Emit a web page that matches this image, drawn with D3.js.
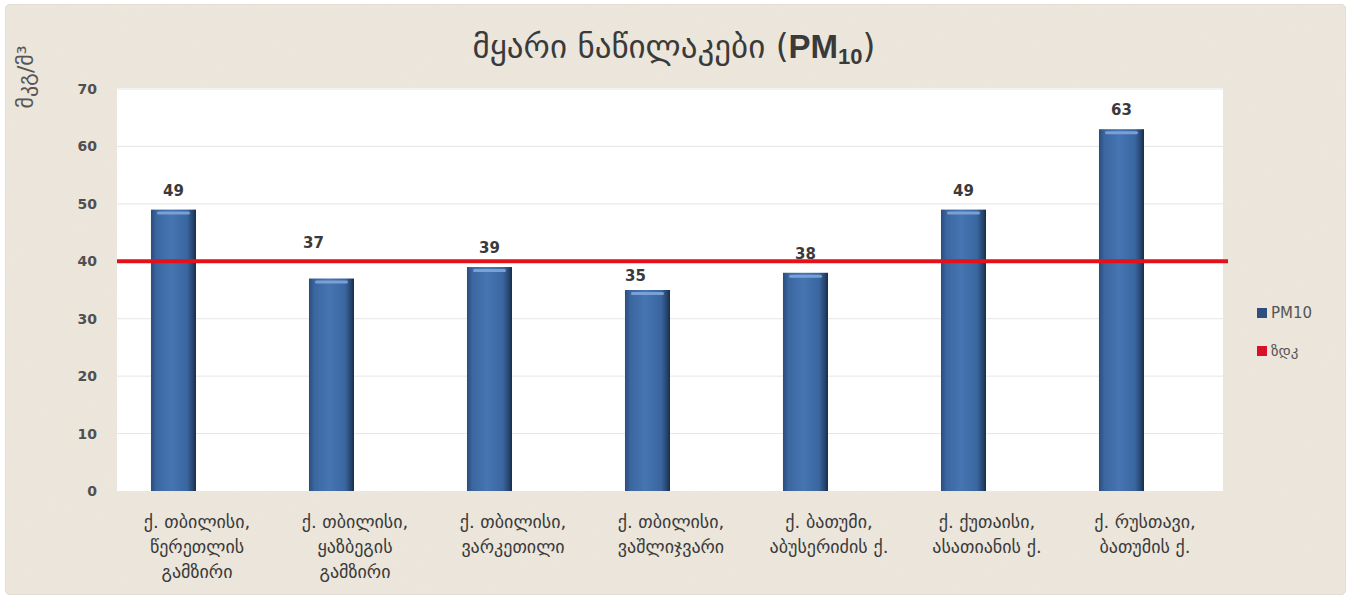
<!DOCTYPE html>
<html>
<head>
<meta charset="utf-8">
<script src="https://cdn.jsdelivr.net/npm/d3@7"></script>
<style>
  html, body { margin: 0; padding: 0; background: #ffffff; }
  svg { display: block; }
</style>
</head>
<body>
<svg id="chart" width="1351" height="600"></svg>
<script>
// Monitoring stations (two-line / three-line labels)
const categories = [
  ["ქ. თბილისი,", "წერეთლის", "გამზირი"],
  ["ქ. თბილისი,", "ყაზბეგის", "გამზირი"],
  ["ქ. თბილისი,", "ვარკეთილი"],
  ["ქ. თბილისი,", "ვაშლიჯვარი"],
  ["ქ. ბათუმი,", "აბუსერიძის ქ."],
  ["ქ. ქუთაისი,", "ასათიანის ქ."],
  ["ქ. რუსთავი,", "ბათუმის ქ."]
];
const pm10 = [49, 37, 39, 35, 38, 49, 63];
const limit = [40, 40, 40, 40, 40, 40, 40];
const yTicks = [0, 10, 20, 30, 40, 50, 60, 70];
const seriesNames = ["PM10", "ზდკ"];
const titleText = "მყარი ნაწილაკები (";
const yTitle = "მკგ/მ³";

const svg = d3.select("#chart");
const GEO = "'DejaVu Sans', sans-serif";
const TXT = "#3a3a3a";

// background panel
const defs = svg.append("defs");
const filt = defs.append("filter").attr("id", "grain").attr("x", 0).attr("y", 0).attr("width", 1).attr("height", 1);
filt.append("feTurbulence").attr("type", "fractalNoise").attr("baseFrequency", 0.9).attr("numOctaves", 2).attr("seed", 3).attr("result", "n");
filt.append("feColorMatrix").attr("in", "n").attr("type", "matrix")
  .attr("values", "0 0 0 0 0.55  0 0 0 0 0.5  0 0 0 0 0.44  0 0 0 0.09 0").attr("result", "c");
filt.append("feComposite").attr("in", "c").attr("in2", "SourceGraphic").attr("operator", "in").attr("result", "m");
filt.append("feMerge").call(m => { m.append("feMergeNode").attr("in", "SourceGraphic"); m.append("feMergeNode").attr("in", "m"); });

svg.append("rect").attr("x", 5).attr("y", 4).attr("width", 1341).attr("height", 591).attr("rx", 6)
  .attr("fill", "#ede7dd").attr("stroke", "#ddd7cd").attr("stroke-width", 1).attr("filter", "url(#grain)");

const plot = { left: 117, right: 1223, top: 88, bottom: 491 };

const x0 = d3.scaleBand().domain(d3.range(categories.length))
  .range([plot.left, plot.right]).paddingInner(0.43).paddingOuter(0.215);
const x1 = d3.scaleBand().domain(seriesNames).range([0, x0.bandwidth()]);
const y = d3.scaleLinear().domain([0, 70]).range([plot.bottom, plot.top + 1]);

// plot area
svg.append("rect").attr("x", plot.left).attr("y", plot.top).attr("width", plot.right - plot.left)
  .attr("height", plot.bottom - plot.top).attr("fill", "#ffffff");

// gridlines
svg.append("g").selectAll("line").data(yTicks.filter(t => t > 0)).join("line")
  .attr("x1", plot.left).attr("x2", plot.right)
  .attr("y1", d => y(d)).attr("y2", d => y(d))
  .attr("stroke", "#e6e6e6").attr("stroke-width", 1);

// y axis labels
const yAxis = d3.axisLeft(y).tickValues(yTicks).tickSize(0).tickPadding(20);
svg.append("g").attr("transform", `translate(${plot.left},0)`).call(yAxis)
  .call(g => g.select(".domain").remove())
  .selectAll("text").attr("font-family", "'DejaVu Sans', sans-serif").attr("font-size", 14)
  .attr("font-weight", "bold").attr("fill", "#505050");

// bar gradient
const grad = defs.append("linearGradient").attr("id", "barGrad").attr("x1", 0).attr("x2", 1).attr("y1", 0).attr("y2", 0);
[[0, "#2a4d7e"], [0.12, "#3b66a0"], [0.45, "#4675b2"], [0.8, "#3a66a0"], [0.93, "#26456f"], [1, "#172c48"]]
  .forEach(([o, c]) => grad.append("stop").attr("offset", o).attr("stop-color", c));

const bw = x1.bandwidth();
const bars = svg.append("g");
bars.selectAll("rect.bar").data(pm10).join("rect").attr("class", "bar")
  .attr("x", (d, i) => x0(i) + x1("PM10"))
  .attr("y", d => y(d))
  .attr("width", bw)
  .attr("height", d => y(0) - y(d))
  .attr("fill", "url(#barGrad)");
// highlight cap at bar tops
bars.selectAll("rect.cap").data(pm10).join("rect").attr("class", "cap")
  .attr("x", (d, i) => x0(i) + x1("PM10") + 6)
  .attr("y", d => y(d) + 2)
  .attr("width", bw - 12)
  .attr("height", 3).attr("rx", 1.5)
  .attr("fill", "#7ea6db").attr("opacity", 0.9);

// limit line (ზდკ)
const lineGen = d3.line().x(d => d[0]).y(d => y(d[1]));
svg.append("path")
  .datum([[plot.left, limit[0]], [plot.right + 5, limit[limit.length - 1]]])
  .attr("d", lineGen).attr("stroke", "#e4101a").attr("stroke-width", 4).attr("fill", "none");

// value labels (a few were moved by hand in the original layout)
const nudge = [[0, 0], [-18, -17], [0, 0], [-12, 5], [0, 0], [0, 0], [0, 0]];
svg.append("g").selectAll("text").data(pm10).join("text")
  .attr("x", (d, i) => x0(i) + x1("PM10") + bw / 2 + nudge[i][0])
  .attr("y", (d, i) => y(d) - 14 + nudge[i][1])
  .attr("text-anchor", "middle")
  .attr("font-family", "'DejaVu Sans', sans-serif").attr("font-size", 15).attr("font-weight", "bold")
  .attr("fill", TXT).text(d => d);

// category labels
const catG = svg.append("g").selectAll("text").data(categories).join("text")
  .attr("x", (d, i) => x0(i) + x0.bandwidth() / 2 + 1)
  .attr("y", 528)
  .attr("text-anchor", "middle")
  .attr("font-family", GEO).attr("font-size", 18).attr("fill", TXT);
catG.selectAll("tspan").data(d => d).join("tspan")
  .attr("x", function () { return d3.select(this.parentNode).attr("x"); })
  .attr("dy", (d, j) => j === 0 ? 0 : 25)
  .text(d => d);

// title
const title = svg.append("text").attr("x", 674).attr("y", 58).attr("text-anchor", "middle")
  .attr("font-family", GEO).attr("font-size", 33).attr("fill", TXT);
title.append("tspan").text(titleText);
title.append("tspan").attr("font-weight", "bold").attr("font-family", "'Liberation Sans', sans-serif").text("PM");
title.append("tspan").attr("font-weight", "bold").attr("font-family", "'Liberation Sans', sans-serif")
  .attr("font-size", 22).attr("dy", 6).text("10");
title.append("tspan").attr("dy", -6).text(")");

// y axis title
svg.append("text").attr("transform", "translate(33,77) rotate(-90)")
  .attr("text-anchor", "middle").attr("font-family", GEO).attr("font-size", 22).attr("fill", "#555")
  .text(yTitle);

// legend
const legend = svg.append("g").attr("transform", "translate(1257,0)");
const legendColors = ["#2d4f7f", "#d8102a"];
const legendY = [313, 351];
seriesNames.forEach((s, i) => {
  legend.append("rect").attr("x", 0).attr("y", legendY[i] - 5).attr("width", 10).attr("height", 10)
    .attr("fill", legendColors[i]);
  legend.append("text").attr("x", 14).attr("y", legendY[i] + 5)
    .attr("font-family", GEO).attr("font-size", 15)
    .attr("fill", "#555").text(s);
});
</script>
</body>
</html>
